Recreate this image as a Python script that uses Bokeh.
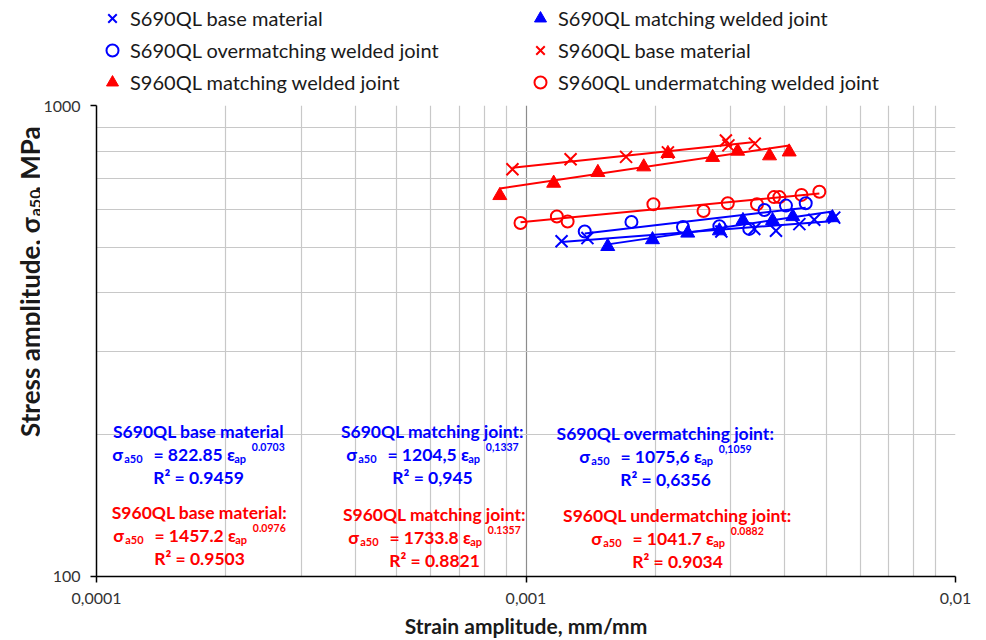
import math
from bokeh.plotting import figure
from bokeh.layouts import column, row
from bokeh.models import Label, Legend, LegendItem, FixedTicker, Range1d
from bokeh.embed import file_html
from bokeh.resources import INLINE

# ---------------- data ----------------
s690_base_x = [1.21e-3, 1.39e-3, 2.85e-3, 3.40e-3, 3.82e-3, 4.33e-3, 4.69e-3, 5.22e-3]
s690_base_y = [515, 523, 540, 547, 542, 560, 572, 578]

s690_match_x = [1.55e-3, 1.97e-3, 2.38e-3, 2.82e-3, 3.20e-3, 3.75e-3, 4.18e-3, 5.17e-3]
s690_match_y = [502, 519, 536, 542, 570, 570, 581, 578]

s690_over_x = [1.37e-3, 1.76e-3, 2.32e-3, 2.82e-3, 3.31e-3, 3.59e-3, 4.03e-3, 4.48e-3]
s690_over_y = [540, 566, 552, 554, 547, 600, 613, 620]

s960_base_x = [9.3e-4, 1.27e-3, 1.71e-3, 2.14e-3, 2.92e-3, 2.96e-3, 3.41e-3]
s960_base_y = [732, 769, 778, 795, 843, 823, 830]

s960_match_x = [8.69e-4, 1.16e-3, 1.47e-3, 1.88e-3, 2.14e-3, 2.72e-3, 3.11e-3, 3.69e-3, 4.10e-3]
s960_match_y = [644, 684, 721, 741, 791, 776, 800, 782, 797]

s960_under_x = [9.71e-4, 1.18e-3, 1.25e-3, 1.98e-3, 2.59e-3, 2.95e-3, 3.45e-3, 3.78e-3, 3.89e-3, 4.38e-3, 4.82e-3]
s960_under_y = [563, 581, 567, 617, 597, 620, 617, 639, 639, 646, 656]

# power-law trend lines: sigma = C * eps^n
fit_names = ["s690_base", "s690_match", "s690_over", "s960_base", "s960_match", "s960_under"]
fit_coef = [822.85, 1204.5, 1075.6, 1457.2, 1733.8, 1041.7]
fit_exp = [0.0703, 0.1337, 0.1059, 0.0976, 0.1357, 0.0882]

x_ticks = [1e-4, 1e-3, 1e-2]
x_tick_labels = ["0,0001", "0,001", "0,01"]
y_ticks = [100, 1000]
y_tick_labels = ["100", "1000"]

legend_left = ["S690QL base material", "S690QL overmatching welded joint", "S960QL matching welded joint"]
legend_right = ["S690QL matching welded joint", "S960QL base material", "S960QL undermatching welded joint"]

x_title = "Strain amplitude, mm/mm"

BLUE = "#0000ff"
RED = "#ff0000"

series = {
    "s690_base": (s690_base_x, s690_base_y, BLUE, "x"),
    "s690_match": (s690_match_x, s690_match_y, BLUE, "triangle"),
    "s690_over": (s690_over_x, s690_over_y, BLUE, "circle"),
    "s960_base": (s960_base_x, s960_base_y, RED, "x"),
    "s960_match": (s960_match_x, s960_match_y, RED, "triangle"),
    "s960_under": (s960_under_x, s960_under_y, RED, "circle"),
}


def add_scatter(fig, xs, ys, col, mk):
    if mk == "x":
        return fig.scatter(xs, ys, marker="x", size=17, line_color=col, line_width=2)
    if mk == "triangle":
        return fig.scatter(xs, ys, marker="triangle", size=14, fill_color=col, line_color=col, line_width=1)
    return fig.scatter(xs, ys, marker="circle", size=12, fill_color=None, line_color=col, line_width=2)


def bare(fig):
    fig.axis.visible = False
    fig.grid.visible = False
    fig.outline_line_color = None


# ---------------- layout geometry (page px) ----------------
W, H = 980, 640
LEG_H = 100          # legend strip height
YT_W = 40            # y-title strip width
FX, FY = 94, 579     # plot frame left / bottom on the page
FTOP, FRIGHT = 105, 955

# ---------------- legend strip ----------------
# (the series are re-plotted here only to carry the legend glyphs; they fall outside this strip's range)
leg = figure(width=W, height=LEG_H, x_range=Range1d(0, W), y_range=Range1d(0, LEG_H),
             output_backend="svg", toolbar_location=None, min_border=0)
bare(leg)
left_keys = ["s690_base", "s690_over", "s960_match"]
right_keys = ["s690_match", "s960_base", "s960_under"]
leg_r = {}
for name in left_keys + right_keys:
    xs, ys, col, mk = series[name]
    leg_r[name] = add_scatter(leg, xs, ys, col, mk)
items = [LegendItem(label=l, renderers=[leg_r[k]]) for k, l in zip(left_keys, legend_left)]
items += [LegendItem(label=l, renderers=[leg_r[k]]) for k, l in zip(right_keys, legend_right)]
lg = Legend(items=items, location=(97, LEG_H - 97), orientation="vertical", ncols=2,
            background_fill_alpha=0, border_line_color=None,
            label_text_font="Lato", label_text_font_size="20px", label_text_color="#1a1a1a",
            glyph_width=30, glyph_height=30, label_height=30, label_width=393, spacing=2,
            padding=0, margin=0, label_standoff=3)
leg.add_layout(lg, "center")

# ---------------- y-title strip ----------------
yt = figure(width=YT_W, height=H - LEG_H, x_range=Range1d(0, YT_W), y_range=Range1d(0, H - LEG_H),
            output_backend="svg", toolbar_location=None, min_border=0)
bare(yt)

# ---------------- main plot ----------------
p = figure(width=W - YT_W, height=H - LEG_H, x_axis_type="log", y_axis_type="log",
           x_range=Range1d(1e-4, 1e-2), y_range=Range1d(100, 1000),
           output_backend="svg", toolbar_location=None,
           min_border_left=FX - YT_W, min_border_right=W - FRIGHT, min_border_top=FTOP - LEG_H,
           min_border_bottom=H - FY)
p.outline_line_color = None

x_minor = [m * t for t in x_ticks[:-1] for m in range(2, 10)]
y_minor = [m * t for t in y_ticks[:-1] for m in range(2, 10)]
p.xaxis.ticker = FixedTicker(ticks=x_ticks, minor_ticks=x_minor)
p.yaxis.ticker = FixedTicker(ticks=y_ticks, minor_ticks=y_minor)
p.xgrid.ticker = p.xaxis.ticker
p.ygrid.ticker = p.yaxis.ticker
p.xaxis.major_label_overrides = dict(zip(x_ticks, x_tick_labels))
p.yaxis.major_label_overrides = dict(zip(y_ticks, y_tick_labels))

for ax in (p.xaxis, p.yaxis):
    ax.axis_line_color = "black"
    ax.axis_line_width = 1.5
    ax.major_tick_line_color = "black"
    ax.major_tick_line_width = 1.5
    ax.major_tick_in = 0
    ax.major_tick_out = 6
    ax.minor_tick_line_color = None
    ax.major_label_text_font = "Lato"
    ax.major_label_text_font_size = "16px"
    ax.major_label_text_color = "#333333"
    ax.major_label_standoff = 10

p.xaxis.axis_label = x_title
p.xaxis.axis_label_text_font = "Lato"
p.xaxis.axis_label_text_font_size = "21px"
p.xaxis.axis_label_text_font_style = "bold"
p.xaxis.axis_label_text_color = "#1a1a1a"
p.xaxis.axis_label_standoff = 6

p.xgrid.grid_line_color = "#8c8c8c"
p.xgrid.grid_line_width = 1.2
p.xgrid.minor_grid_line_color = "#c8c8c8"
p.xgrid.minor_grid_line_width = 1.2
p.ygrid.grid_line_color = "#a6a6a6"
p.ygrid.grid_line_width = 1.2
p.ygrid.minor_grid_line_color = "#c8c8c8"
p.ygrid.minor_grid_line_width = 1.2

# trend lines first
for name, c, n in zip(fit_names, fit_coef, fit_exp):
    xs, ys, col, mk = series[name]
    lx = [min(xs), max(xs)]
    ly = [c * v ** n for v in lx]
    p.line(lx, ly, line_color=col, line_width=2)

for name in ["s960_under", "s690_over", "s960_base", "s960_match", "s690_base", "s690_match"]:
    xs, ys, col, mk = series[name]
    add_scatter(p, xs, ys, col, mk)

# ---------------- text annotations ----------------
WID = {'0': .58, '1': .58, '2': .58, '3': .58, '4': .58, '5': .58, '6': .58, '7': .58, '8': .58, '9': .58,
       ' ': .2, '.': .23, ',': .23, '=': .58, ':': .25, 'S': .52, 'Q': .78, 'L': .46, 'R': .6, 'M': .93,
       'P': .6, 'a': .5, 'b': .56, 'c': .46, 'd': .56, 'e': .52, 'g': .51, 'h': .56, 'i': .25, 'j': .25,
       'k': .53, 'l': .25, 'm': .84, 'n': .56, 'o': .56, 'p': .56, 'r': .38, 's': .42, 't': .37, 'u': .56,
       'v': .52, 'σ': .62, 'ε': .5, '²': .38, '/': .4}


def tw(s, size):
    return sum(WID.get(ch, .55) for ch in s) * size


def lab(text, px, py, size, color, align="left"):
    p.add_layout(Label(x=px - FX, y=FY - py, x_units="screen", y_units="screen", text=text,
                       text_font="Lato", text_font_size=f"{size:.1f}px",
                       text_font_style="bold", text_color=color,
                       text_align=align, text_baseline="alphabetic"))


HS = 17.5   # main annotation size
SUB = 11    # subscript size
SUP = 10.5  # superscript size


def equation(cx, py, coef, expo, color):
    # (text, size, baseline shift downwards, gap after)
    parts = [("σ", HS, 0, 1), ("a50", SUB, 4, 11), ("= " + coef + " ε", HS, 0, 0),
             ("ap", SUB, 4, 6), (expo, SUP, -8, 0)]
    total = sum(tw(t, s) + g for t, s, _, g in parts)
    x = cx - total / 2
    for t, s, dy, g in parts:
        lab(t, x, py + dy, s, color)
        x += tw(t, s) + g


def block(cx, py, title, coef, expo, r2, color):
    lab(title, cx, py, HS, color, align="center")
    equation(cx, py + 23, coef, expo, color)
    lab("R² = " + r2, cx, py + 46, HS, color, align="center")


block(196, 434, "S690QL base material", "822.85", "0.0703", "0.9459", BLUE)
block(197, 515, "S960QL base material:", "1457.2", "0.0976", "0.9503", RED)
block(430, 434, "S690QL matching joint:", "1204,5", "0,1337", "0,945", BLUE)
block(432, 517, "S960QL matching joint:", "1733.8", "0.1357", "0.8821", RED)
block(663, 436, "S690QL overmatching joint:", "1075,6", "0,1059", "0,6356", BLUE)
block(675, 518, "S960QL undermatching joint:", "1041.7", "0.0882", "0.9034", RED)

# ---------------- rotated y-axis title (σ with subscript a50) ----------------
TS = 26
TSS = 16
anchor = 228          # page y where "σ" ends and the subscript begins
base_x = 29           # page x of the text baseline


def ylab(text, page_y, size, dx, align):
    yt.add_layout(Label(x=base_x + dx, y=H - page_y, text=text, angle=math.pi / 2,
                        text_font="Lato", text_font_size=f"{size}px", text_font_style="bold",
                        text_color="#1a1a1a", text_align=align, text_baseline="alphabetic"))


ylab("Stress amplitude, σ", anchor, TS, 0, "right")
ylab("a50", anchor - 1, TSS, 5, "left")
ylab(", MPa", anchor - 2 - tw("a50", TSS), TS, 0, "left")

layout = column(leg, row(yt, p, spacing=0), spacing=0)
open("out.html", "w").write(file_html(layout, INLINE))
